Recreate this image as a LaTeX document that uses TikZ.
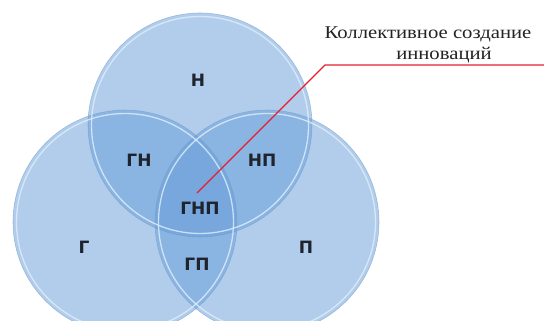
\documentclass[tikz,border=0pt]{standalone}
\usepackage{fontspec}
\setmainfont{Liberation Serif}
\newfontfamily\lblfont{DejaVu Sans}
\definecolor{cfill}{RGB}{100,155,215}
\definecolor{crim}{RGB}{225,238,250}
\definecolor{cedge}{RGB}{120,160,205}
\definecolor{clbl}{RGB}{30,35,45}
\definecolor{cred}{RGB}{230,30,45}
\definecolor{ctxt}{RGB}{35,35,35}
\begin{document}
\begin{tikzpicture}[x=1pt,y=-1pt,
  venn/.style={circle, minimum size=224pt, inner sep=0pt, fill=cfill, fill opacity=0.5, draw=cedge, draw opacity=0.6, line width=0.6pt},
  rim/.style={draw=crim, draw opacity=0.8, line width=1.3pt},
  lbl/.style={font=\lblfont\bfseries\fontsize{17}{20}\selectfont, text=clbl, inner sep=0pt},
  captxt/.style={font=\fontsize{18}{20}\selectfont, text=ctxt, inner sep=0pt, anchor=base}]
\useasboundingbox (0,0) rectangle (544,321);
\begin{scope}
\clip (0,0) rectangle (544,321);
\node[venn] (N) at (200,125) {};
\node[venn] (G) at (125,222) {};
\node[venn] (P) at (267,222) {};
\draw[rim] (200,125) circle (108.5);
\draw[rim] (125,222) circle (108.5);
\draw[rim] (267,222) circle (108.5);
\end{scope}
\node[lbl] (tN) at (198,80) {Н};
\node[lbl] (tGN) at (139,160) {ГН};
\node[lbl] (tNP) at (262,160) {НП};
\node[lbl] (tGNP) at (200,208) {ГНП};
\node[lbl] (tG) at (84,247) {Г};
\node[lbl] (tGP) at (197,264) {ГП};
\node[lbl] (tP) at (306,247) {П};
\coordinate (p0) at (197,193);
\coordinate (p1) at (325,65);
\coordinate (p2) at (544,65);
\draw[cred, line width=1.3pt] (p0) -- (p1) -- (p2);
\node[captxt] (c1) at (428,39) {\scalebox{1.15}[1]{Коллективное создание}};
\node[captxt] (c2) at (444,60) {\scalebox{1.15}[1]{инноваций}};
\end{tikzpicture}
\end{document}
